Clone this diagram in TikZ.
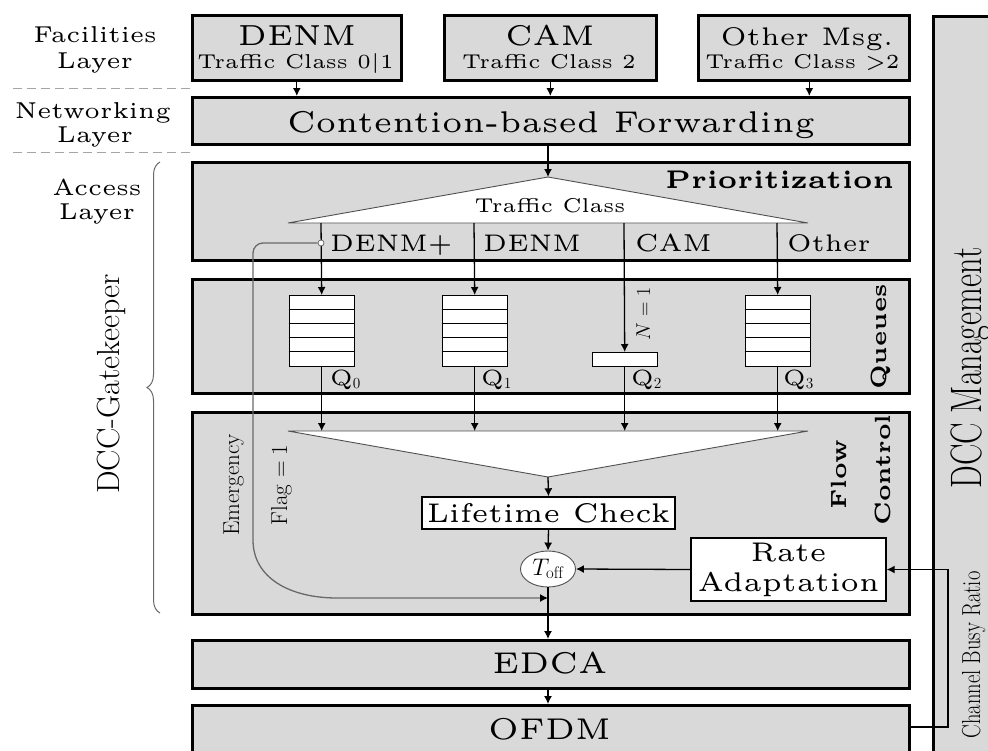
\RequirePackage{fix-cm}
\documentclass[tikz,border=0pt]{standalone}
\usepackage{graphicx}
\usepackage{fontspec}
\newfontfamily\lmfive{lmroman5-regular.otf}[BoldFont=lmroman5-bold.otf]
\usetikzlibrary{arrows.meta,shapes.geometric,decorations.pathreplacing}
\definecolor{boxgray}{RGB}{217,217,217}
\definecolor{emgray}{RGB}{105,105,105}
\definecolor{trigray}{RGB}{80,80,80}
\definecolor{dashgray}{RGB}{165,165,165}
\newcommand\fsz[2]{\fontsize{#1}{#2}\selectfont}
\tikzset{
  layer/.style={draw=black, line width=2.6pt, fill=boxgray, inner sep=0pt, anchor=north west},
  wbox/.style={draw=black, line width=1.4pt, fill=white, inner sep=0pt},
  qbox/.style={draw=black, line width=1.4pt, fill=white, inner sep=0pt, anchor=north west, minimum width=65pt},
  arr/.style={line width=1.3pt, -{Latex[length=8pt,width=8pt]}},
  tri/.style={draw=trigray, line width=0.9pt, fill=white},
  lbl/.style={inner sep=0pt, anchor=base},
  rlbl/.style={inner sep=0pt, anchor=base, rotate=90},
  emline/.style={draw=emgray, line width=1.3pt},
  dashline/.style={draw=dashgray, line width=1pt, dash pattern=on 9pt off 5pt},
}
\begin{document}
\begin{tikzpicture}[x=1pt,y=-1pt]
\useasboundingbox (0,0) rectangle (988,750);
\clip (0,0) rectangle (988,750);
\fill[white] (0,0) rectangle (988,750);

% ---- left labels
\node[lbl, font=\lmfive\fsz{23}{27}] (facA) at (95,42) {Facilities};
\node[lbl, font=\lmfive\fsz{23}{27}] (facB) at (95,68) {Layer};
\node[lbl, font=\lmfive\fsz{23}{27}] (netA) at (93,118) {Networking};
\node[lbl, font=\lmfive\fsz{23}{27}] (netB) at (95,142) {Layer};
\node[lbl, font=\lmfive\fsz{23}{27}] (accA) at (97,195) {Access};
\node[lbl, font=\lmfive\fsz{23}{27}] (accB) at (97,219) {Layer};
\draw[dashline] (13,88) -- (190,88);
\draw[dashline] (13,152) -- (190,152);

% ---- layer boxes
\node[layer, minimum width=209pt, minimum height=65pt] (fdenm) at (191,14) {};
\node[layer, minimum width=212pt, minimum height=65pt] (fcam) at (443,14) {};
\node[layer, minimum width=211pt, minimum height=65pt] (foth) at (697,14) {};
\node[layer, minimum width=717pt, minimum height=47pt] (cont) at (191,96) {};
\node[layer, minimum width=717pt, minimum height=98pt] (prio) at (191,161) {};
\node[layer, minimum width=717pt, minimum height=114pt] (queues) at (191,278) {};
\node[layer, minimum width=717pt, minimum height=202pt] (flow) at (191,411) {};
\node[layer, minimum width=717pt, minimum height=48pt] (edca) at (191,639) {};
\node[layer, minimum width=717pt, minimum height=70pt] (ofdm) at (191,704) {};
\node[layer, minimum width=90pt, minimum height=760pt] (dcc) at (932,15) {};

% ---- facilities texts
\node[lbl, font=\lmfive\fsz{29}{33}] (tdenm) at (297,45) {DENM};
\node[lbl, font=\lmfive\fsz{20}{23}] (tdenm2) at (295.5,68) {Traffic Class 0|1};
\node[lbl, font=\lmfive\fsz{28.5}{33}] (tcam) at (550,45) {CAM};
\node[lbl, font=\lmfive\fsz{20}{23}] (tcam2) at (549,68) {Traffic Class 2};
\node[lbl, font=\lmfive\fsz{25.5}{30}] (toth) at (807,45) {Other Msg.};
\node[lbl, font=\lmfive\fsz{20}{23}] (toth2) at (802.5,68) {Traffic Class >2};
\node[lbl, font=\lmfive\fsz{30}{34}] (tcont) at (551,132) {Contention-based Forwarding};
\node[lbl, font=\lmfive\fsz{30}{34}] (tedca) at (550,673) {EDCA};
\node[lbl, font=\lmfive\fsz{30}{34}] (tofdm) at (549.5,739) {OFDM};

\draw[arr] (fdenm.south) -- (fdenm.south |- cont.north);
\draw[arr] (fcam.south) -- (fcam.south |- cont.north);
\draw[arr] ([xshift=5.5pt]foth.south) -- ([xshift=5.5pt]foth.south |- cont.north);

% ---- prioritization
\coordinate (apexA) at (548,177);
\coordinate (triAL) at (288,223);
\coordinate (triAR) at (808,223);
\draw[tri] (triAL) -- (apexA) -- (triAR) -- cycle;
\draw[arr] (apexA |- cont.south) -- (apexA);
\node[lbl, font=\lmfive\fsz{20}{24}] (ttc) at (550,212) {Traffic Class};
\node[inner sep=0pt, anchor=base east, font=\lmfive\bfseries\fsz{25.5}{29}] (tprio) at (894,188) {Prioritization};

% ---- queues
\node[qbox, minimum height=71pt] (q0) at (288.5,295) {};
\node[qbox, minimum height=71pt] (q1) at (441.5,295) {};
\node[qbox, minimum height=14pt] (q2) at (591.5,352) {};
\node[qbox, minimum height=71pt] (q3) at (744.5,295) {};
\foreach \q in {q0,q1,q3}{
  \foreach \i in {1,...,4}{
    \draw[line width=1.2pt] ([yshift=-\i*14.2pt]\q.north west) -- ([yshift=-\i*14.2pt]\q.north east);
  }
}
\coordinate (cA) at (321,223);
\coordinate (cB) at (474,223);
\coordinate (cC) at (624,223);
\coordinate (cD) at (777,223);
\draw[arr] (cA) -- (q0.north);
\draw[arr] (cB) -- (q1.north);
\draw[arr] (cC) -- (q2.north);
\draw[arr] (cD) -- (q3.north);
\node[inner sep=0pt, anchor=base west, font=\lmfive\fsz{24}{28}] (lA) at (330,251) {DENM+};
\node[inner sep=0pt, anchor=base west, font=\lmfive\fsz{24}{28}] (lB) at (483,251) {DENM};
\node[inner sep=0pt, anchor=base west, font=\lmfive\fsz{24.5}{28}] (lC) at (635,251) {CAM};
\node[inner sep=0pt, anchor=base west, font=\lmfive\fsz{24}{28}] (lD) at (787,251) {Other};
\node[inner sep=0pt, anchor=base west, font=\lmfive\fsz{22}{26}] (ql0) at (330,385) {Q$_0$};
\node[inner sep=0pt, anchor=base west, font=\lmfive\fsz{22}{26}] (ql1) at (481,385) {Q$_1$};
\node[inner sep=0pt, anchor=base west, font=\lmfive\fsz{22}{26}] (ql2) at (631,385) {Q$_2$};
\node[inner sep=0pt, anchor=base west, font=\lmfive\fsz{22}{26}] (ql3) at (783,385) {Q$_3$};
\node[rlbl, font=\fsz{20}{24}] (tn) at (650,314) {$N=1$};
\node[rlbl, font=\lmfive\bfseries\fsz{22}{26}] (tqueues) at (886,337) {Queues};

% ---- flow control
\coordinate (triBL) at (288,431);
\coordinate (triBR) at (808,431);
\coordinate (apexB) at (548,477);
\draw[tri] (triBL) -- (triBR) -- (apexB) -- cycle;
\draw[arr] (q0.south) -- (q0.south |- triBL);
\draw[arr] (q1.south) -- (q1.south |- triBL);
\draw[arr] (q2.south) -- (q2.south |- triBL);
\draw[arr] (q3.south) -- (q3.south |- triBL);
\node[wbox, minimum width=253pt, minimum height=32pt, font=\lmfive\fsz{27}{31}] (life) at (548.5,513) {Lifetime Check};
\node[ellipse, draw=trigray, fill=white, line width=0.9pt, minimum width=55pt, minimum height=36pt, inner sep=0pt, font=\fsz{24}{28}] (toff) at (548,569) {$T_{\mathrm{off}}$};
\node[wbox, minimum width=195pt, minimum height=63pt, align=center, font=\lmfive\fsz{27}{30}] (rate) at (788.5,569.5) {Rate\\Adaptation};
\draw[arr] (apexB) -- (life.north);
\draw[arr] (life.south) -- (toff.north);
\draw[arr] (rate.west) -- (toff.east);
\draw[arr] (toff.south) -- (toff.south |- edca.north);
\draw[arr] (edca.south -| toff) -- (toff |- ofdm.north);
\node[rlbl, font=\lmfive\bfseries\fsz{22}{26}] (tflow) at (846,475) {Flow};
\node[rlbl, font=\lmfive\bfseries\fsz{22}{26}] (tcontrol) at (890,470) {Control};

% ---- emergency path
\node[circle, draw=emgray, fill=white, minimum size=6pt, inner sep=0pt, line width=0.8pt] (emdot) at (321,243) {};
\coordinate (emend) at (548,598);
\draw[emline, -{Latex[length=8pt,width=8pt,color=black]}] (emdot.west) [rounded corners=10pt] -- (253,243) -- (253,300) [sharp corners] -- (253,540) .. controls (253,578) and (290,598) .. (337,598) -- (emend);
\node[rlbl, font=\fsz{23}{27}] (temerg) at (239,485) {Emergency};
\node[rlbl, font=\fsz{23}{27}] (tflag) at (287,485) {Flag $=1$};

% ---- channel busy ratio
\coordinate (cbr) at (948,727);
\draw[arr] (ofdm.east |- cbr) -- (cbr) -- (cbr |- rate.east) -- (rate.east);
\node[rlbl, font=\fsz{26}{30}] (tcbr) at (980,655) {\scalebox{0.79}[1]{Channel Busy Ratio}};
\node[rlbl, font=\fsz{44}{48}] (tdcc) at (981,368) {\scalebox{0.73}[1]{DCC Management}};

% ---- gatekeeper brace
\draw[decorate, decoration={brace, amplitude=13pt}, draw=emgray, line width=1pt] (160,613) -- (160,162);
\node[rlbl, font=\fsz{32}{36}] (tgk) at (119,384) {DCC-Gatekeeper};
\end{tikzpicture}
\end{document}
